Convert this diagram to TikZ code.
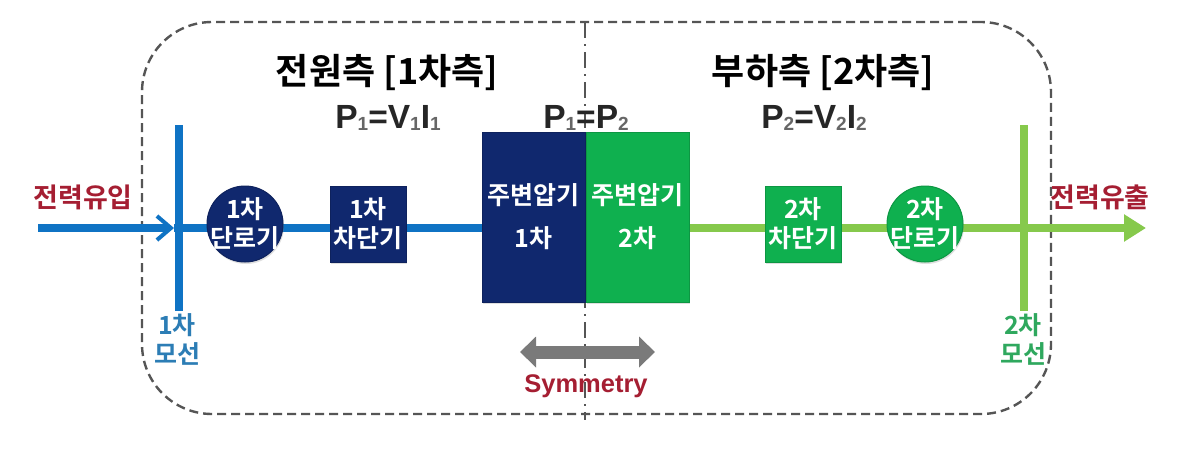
\documentclass[tikz,border=0pt]{standalone}
\usepackage{fontspec}
\setmainfont{Liberation Sans}
\newfontfamily\kr{Noto Sans CJK KR}[BoldFont={* Bold}]
\usetikzlibrary{arrows.meta,shadows}
\definecolor{navy}{HTML}{10286E}
\definecolor{grn}{HTML}{0FB04F}
\definecolor{lineblue}{HTML}{0F73C4}
\definecolor{linegreen}{HTML}{86C94C}
\definecolor{redtx}{HTML}{A51E32}
\definecolor{blutx}{HTML}{2C7DB5}
\definecolor{grntx}{HTML}{2FA85E}
\definecolor{dashc}{HTML}{555555}
\newcommand{\subn}[1]{\raisebox{-2.5pt}{\fontsize{19}{19}\selectfont\color{black!60}#1}}
\tikzset{
 elem/.style={font=\kr\bfseries\fontsize{25}{29}\selectfont,text=white,align=center,inner sep=0pt,draw=black!15!#1,line width=1pt,fill=#1,drop shadow={shadow xshift=1pt,shadow yshift=-2pt,opacity=.25}},
 circ/.style={elem=#1,circle,minimum size=76pt,inner sep=-8pt},
 sq/.style={elem=#1,rectangle,minimum size=76pt},
 xf/.style={elem=#1,rectangle,minimum width=103pt,minimum height=170pt,font=\kr\bfseries\fontsize{25}{43}\selectfont},
 heading/.style={font=\kr\bfseries\fontsize{36}{38}\selectfont,inner sep=0pt},
 eqn/.style={font=\bfseries\fontsize{33.5}{35}\selectfont,inner sep=0pt,text=black!85},
 side/.style={font=\kr\bfseries\fontsize{27}{29}\selectfont,inner sep=0pt,text=redtx},
 buslab/.style={font=\kr\bfseries\fontsize{25}{29}\selectfont,inner sep=0pt,align=center,text=#1},
 bluewire/.style={draw=lineblue,line width=8pt},
 greenwire/.style={draw=linegreen,line width=8pt},
}
\begin{document}
\begin{tikzpicture}[x=1pt,y=-1pt]
\useasboundingbox (0,0) rectangle (1200,459);
\fill[white] (0,0) rectangle (1200,459);
% frame and symmetry axis
\node[draw=dashc,line width=2.4pt,dash pattern=on 9pt off 5pt,rounded corners=70pt,minimum width=909pt,minimum height=392pt,inner sep=0pt] (frame) at (596.5,218) {};
\coordinate (axT) at (585,22);
\coordinate (axB) at (585,420);
\draw[dashc,line width=2.5pt,dash pattern=on 16pt off 6pt on 2pt off 6pt] (axT) -- (axB);
% coordinates
\coordinate (inS) at (38,228);
\coordinate (inE) at (174,228);
\coordinate (outE) at (1146,228);
\coordinate (b1T) at (179,125);
\coordinate (b1B) at (179,311);
\coordinate (b2T) at (1024,125);
\coordinate (b2B) at (1024,311);
% elements
\coordinate (t1w) at (482,228);
\coordinate (t2e) at (689,228);
\draw[bluewire] (b1T) -- (b1B);
\draw[greenwire] (b2T) -- (b2B);
\draw[bluewire,-{Straight Barb[length=14pt,width=24pt,line width=4pt]}] (inS) -- (inE);
\draw[bluewire] (inE) -- (t1w);
\draw[greenwire,-{Triangle[length=22pt,width=26pt]}] (t2e) -- (outE);
\node[circ=navy] (d1) at (245,224) {1차\\단로기};
\node[sq=navy] (c1) at (368,224) {1차\\차단기};
\node[xf=navy] (t1) at (533.5,217) {주변압기\\1차};
\node[xf=grn] (t2) at (637.5,217) {주변압기\\2차};
\node[sq=grn] (c2) at (803,224) {2차\\차단기};
\node[circ=grn] (d2) at (925,224) {2차\\단로기};
% texts
\node[heading] (h1) at (387,73) {전원측 [1차측]};
\node[heading] (h2) at (823,73) {부하측 [2차측]};
\node[eqn] (e1) at (388,118) {P\subn{1}=V\subn{1}I\subn{1}};
\node[eqn] (e0) at (586,118) {P\subn{1}=P\subn{2}};
\node[eqn] (e2) at (814,118) {P\subn{2}=V\subn{2}I\subn{2}};
\node[side] (lin) at (83,197) {전력유입};
\node[side] (lout) at (1100,197) {전력유출};
\node[buslab=blutx] (l1) at (177,339) {1차\\모선};
\node[buslab=grntx] (l2) at (1023,339) {2차\\모선};
% symmetry
\coordinate (syL) at (520,352);
\coordinate (syR) at (655,352);
\draw[draw=black!52,line width=13pt,{Triangle[length=16pt,width=30pt]}-{Triangle[length=16pt,width=30pt]}] (syL) -- (syR);
\node[font=\bfseries\fontsize{25.5}{28}\selectfont,text=redtx,inner sep=0pt] (sy) at (586,386) {Symmetry};
\end{tikzpicture}
\end{document}
